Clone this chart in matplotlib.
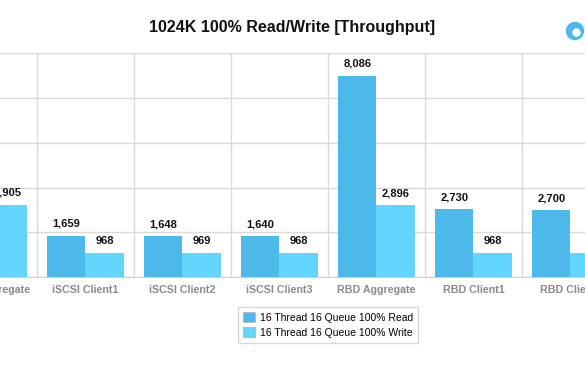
import numpy as np
import matplotlib.pyplot as plt
from matplotlib.patches import Circle

plt.rcParams['font.family'] = ['Liberation Sans', 'DejaVu Sans']

# data
categories = ['iSCSI Aggregate', 'iSCSI Client1', 'iSCSI Client2', 'iSCSI Client3',
              'RBD Aggregate', 'RBD Client1', 'RBD Client2']
read_vals = [4947, 1659, 1648, 1640, 8086, 2730, 2700]
write_vals = [2905, 968, 969, 968, 2896, 968, 960]
series_names = ['16 Thread 16 Queue 100% Read', '16 Thread 16 Queue 100% Write']

c_read = '#4db8ea'
c_write = '#62d4fe'

fig = plt.figure(figsize=(5.85, 3.68), dpi=100)
ax = fig.add_axes([0, 0.2465, 1, 0.6095])

x = np.arange(len(categories))
w = 0.397
b1 = ax.bar(x - w / 2, read_vals, w, color=c_read, label=series_names[0], zorder=3)
b2 = ax.bar(x + w / 2, write_vals, w, color=c_write, label=series_names[1], zorder=3)

for bars, vals in [(b1, read_vals), (b2, write_vals)]:
    for rect, v in zip(bars, vals):
        ax.annotate(f'{v:,}', (rect.get_x() + rect.get_width() / 2, v),
                    xytext=(0, 5), textcoords='offset points',
                    ha='center', va='bottom', fontsize=8, fontweight='bold',
                    color='#111111')

# category labels (drawn as text so the half-visible ones at the edges show)
for xi, name in zip(x, categories):
    ax.text(xi, -0.055, name, transform=ax.get_xaxis_transform(), ha='center', va='center',
            fontsize=7.7, fontweight='bold', color='#8a8a8a', clip_on=False)

# category separators and horizontal grid
for b in np.arange(-0.5, len(categories) + 0.5, 1):
    ax.axvline(b, color='#d9d9d9', lw=1, zorder=1)
ax.grid(axis='y', color='#d9d9d9', lw=1, zorder=1)
for s in ['top', 'left', 'right']:
    ax.spines[s].set_visible(False)
ax.spines['bottom'].set_color('#d0d0d0')

ax.set_xticks([])
ax.tick_params(axis='y', length=0, labelleft=False)
ax.set_ylim(0, 9000)
ax.set_yticks(np.arange(0, 9001, 1800))
ax.set_xlim(0.1186, 0.1186 + 585 / 97)

fig.text(0.5, 0.924, '1024K 100% Read/Write [Throughput]', ha='center', va='center',
         fontsize=11.5, fontweight='bold', color='#111111')

# small logo top right (pixel coordinates)
fig.patches.append(Circle((575, 368 - 31), 8.5, transform=None, color='#4db8ea'))
fig.patches.append(Circle((576.5, 368 - 32.5), 3.5, transform=None, color='white'))

leg = fig.legend(handles=[b1, b2], loc='center', bbox_to_anchor=(328 / 585, 1 - 325 / 368),
                 fontsize=7.5, frameon=True, fancybox=False, edgecolor='#cccccc',
                 handlelength=1.1, handleheight=1.1, borderpad=0.5, labelspacing=0.45,
                 handletextpad=0.5)
for h in leg.legend_handles:
    h.set_edgecolor('#bbbbbb')
    h.set_linewidth(0.8)

fig.savefig('out.png', dpi=100)
